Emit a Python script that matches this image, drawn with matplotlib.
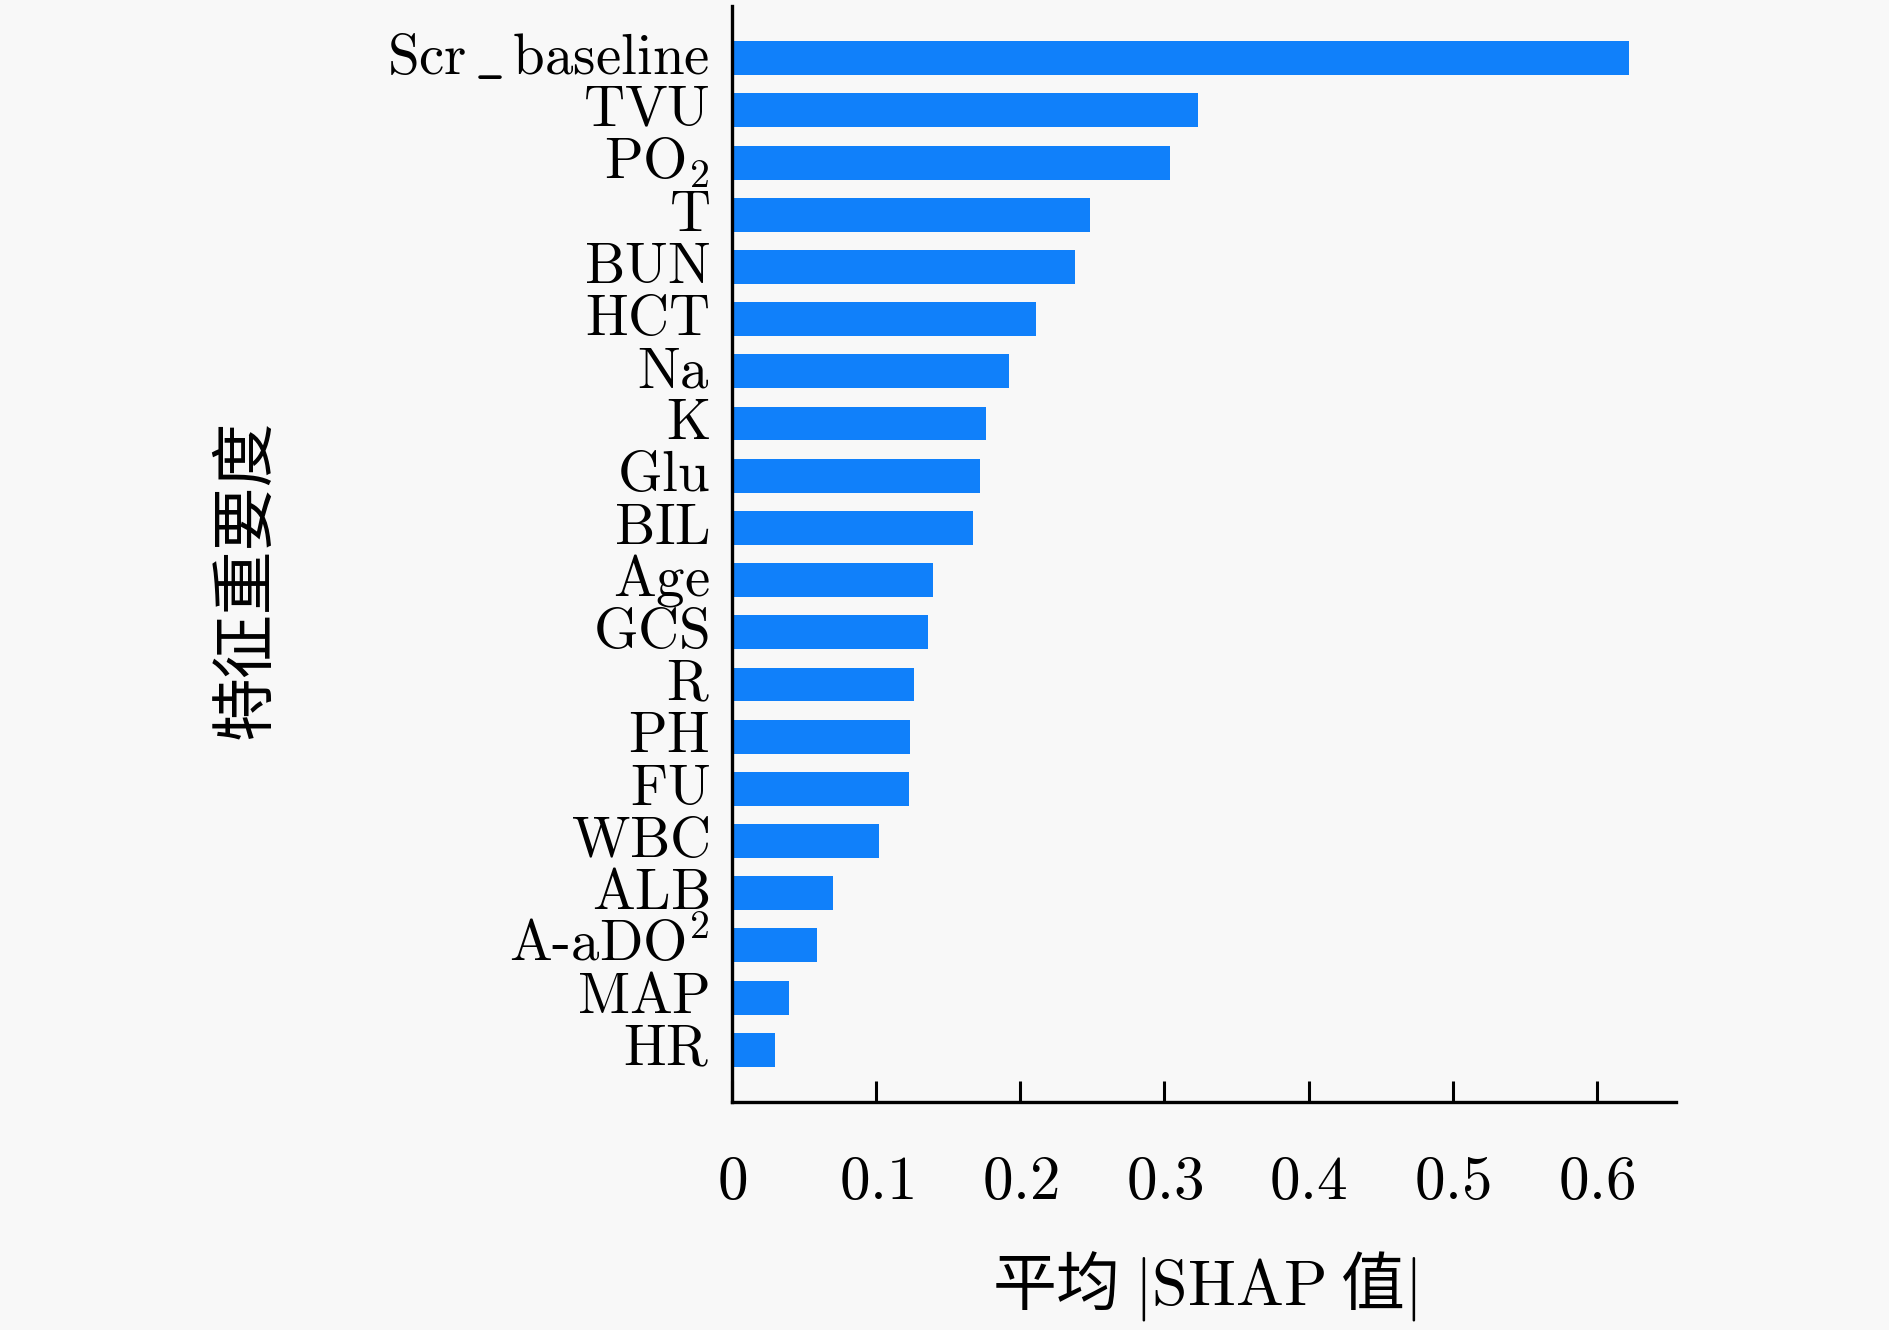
import matplotlib
matplotlib.use('Agg')
import matplotlib.pyplot as plt
import matplotlib.transforms as mtransforms
import numpy as np

# feature names, top to bottom (mathtext, rendered in Computer Modern)
features = [r'Scr\,\_\,baseline', 'TVU', r'PO_2', 'T', 'BUN', 'HCT', 'Na', 'K',
            'Glu', 'BIL', 'Age', 'GCS', 'R', 'PH', 'FU', 'WBC', 'ALB',
            r'A\text{-}aDO^2', 'MAP', 'HR']
mean_shap = [0.6226, 0.3234, 0.3042, 0.2482, 0.2382, 0.2106, 0.1922, 0.1763,
             0.1721, 0.1671, 0.1396, 0.1362, 0.1262, 0.1237, 0.1228, 0.1019,
             0.0702, 0.0593, 0.0393, 0.0301]
xticks = [0, 0.1, 0.2, 0.3, 0.4, 0.5, 0.6]
xtick_labels = ['0', '0.1', '0.2', '0.3', '0.4', '0.5', '0.6']

plt.rcParams['mathtext.fontset'] = 'cm'
plt.rcParams['font.family'] = ['Noto Sans CJK SC', 'DejaVu Sans']

bg = '#f8f8f8'
fig = plt.figure(figsize=(18.9, 13.3), dpi=100, facecolor=bg)
ax = fig.add_axes([0.3873, 0.1714, 0.4995, 0.8241])
ax.set_facecolor(bg)

n = len(features)
ypos = np.arange(n)[::-1]
ax.barh(ypos, mean_shap, height=0.65, color='#1080fa', align='center')

ax.set_ylim(-1, n)
ax.set_xlim(0, 0.655)

ax.set_yticks(ypos)
ax.set_yticklabels([r'$\mathrm{' + f + '}$' for f in features], fontsize=41)
ax.tick_params(axis='y', length=0, pad=16)
# nudge the labels up a little so they sit level with the bars
shift = mtransforms.ScaledTranslation(0, 0.07, fig.dpi_scale_trans)
for lbl in ax.get_yticklabels():
    lbl.set_transform(lbl.get_transform() + shift)

ax.set_xticks(xticks)
ax.set_xticklabels(['$' + t + '$' for t in xtick_labels], fontsize=44)
ax.tick_params(axis='x', direction='in', length=15, width=2.2, pad=35)

for s in ['top', 'right']:
    ax.spines[s].set_visible(False)
for s in ['left', 'bottom']:
    ax.spines[s].set_linewidth(2.4)
    ax.spines[s].set_color('black')

ax.set_xlabel(r'平均 $|\mathrm{SHAP}$ 值$|$', fontsize=46, labelpad=26)
ax.set_ylabel('特征重要度', fontsize=46)
ax.yaxis.set_label_coords(279 / 1890, 1 - 579 / 1330, transform=fig.transFigure)

fig.savefig('out.png', dpi=100, facecolor=bg)
